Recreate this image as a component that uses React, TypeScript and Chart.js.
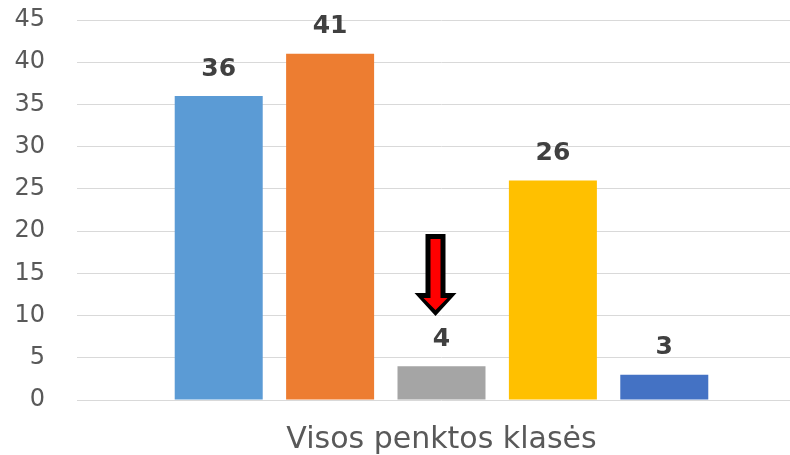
import React, { useEffect, useRef } from "react";
import { Chart, registerables } from "chart.js";

Chart.register(...registerables);

const categories = ["Visos penktos klasės"];
const seriesNames = ["A", "B", "C", "D", "E"];
const seriesValues = [36, 41, 4, 26, 3];
const seriesColors = ["#5B9BD5", "#ED7D31", "#A5A5A5", "#FFC000", "#4472C4"];
const yTicks = [0, 5, 10, 15, 20, 25, 30, 35, 40, 45];
// arrow annotation over the third series (in data units)
const arrowSeries = 2;
const arrowTopValue = 19.66;
const arrowHeadValue = 12.67;
const arrowTipValue = 9.95;

const FONT = "'DejaVu Sans'";

function arrowPath(ctx: any, cx: number, top: number, head: number, tip: number, sw: number, hw: number) {
  ctx.beginPath();
  ctx.moveTo(cx - sw, top);
  ctx.lineTo(cx + sw, top);
  ctx.lineTo(cx + sw, head);
  ctx.lineTo(cx + hw, head);
  ctx.lineTo(cx, tip);
  ctx.lineTo(cx - hw, head);
  ctx.lineTo(cx - sw, head);
  ctx.closePath();
}

const labelPlugin = {
  id: "barLabels",
  afterDatasetsDraw(chart: any) {
    const ctx = chart.ctx;
    ctx.save();
    ctx.font = `bold 25px ${FONT}`;
    ctx.fillStyle = "#404040";
    ctx.textAlign = "center";
    ctx.textBaseline = "middle";
    chart.data.datasets.forEach((ds: any, i: number) => {
      const meta = chart.getDatasetMeta(i);
      meta.data.forEach((bar: any, j: number) => {
        ctx.fillText(String(ds.data[j]), bar.x, bar.y - 27);
      });
    });
    // arrow
    const y = chart.scales.y;
    const bar = chart.getDatasetMeta(arrowSeries).data[0];
    const cx = bar.x - 6;
    const top = y.getPixelForValue(arrowTopValue);
    const head = y.getPixelForValue(arrowHeadValue);
    const tip = y.getPixelForValue(arrowTipValue);
    arrowPath(ctx, cx, top, head, tip, 10, 21);
    ctx.fillStyle = "#000000";
    ctx.fill();
    arrowPath(ctx, cx, top + 5, head + 5, tip - 6, 5, 12);
    ctx.fillStyle = "#FF0000";
    ctx.fill();
    ctx.restore();
  },
};

export default function App() {
  const ref = useRef<HTMLCanvasElement>(null);
  useEffect(() => {
    if (!ref.current) return;
    const chart = new Chart(ref.current, {
      type: "bar",
      data: {
        labels: categories,
        datasets: seriesValues.map((v, i) => ({
          label: seriesNames[i],
          data: [v],
          backgroundColor: seriesColors[i],
          categoryPercentage: 0.764,
          barPercentage: 0.79,
        })),
      },
      options: {
        responsive: false,
        animation: false,
        layout: { padding: { top: 20, right: 0, left: 0, bottom: 0 } },
        plugins: { legend: { display: false }, tooltip: { enabled: false } },
        scales: {
          x: {
            afterFit: (s: any) => {
              s.height = 55;
              s.paddingLeft = 0;
              s.paddingRight = 0;
            },
            grid: { display: false, drawTicks: false },
            border: { display: false },
            ticks: {
              color: "#595959",
              font: { family: FONT, size: 30 },
              padding: 22,
            },
          },
          y: {
            min: 0,
            max: 45,
            afterFit: (s: any) => {
              s.width = 77;
              s.paddingTop = 0;
              s.paddingBottom = 0;
            },
            afterBuildTicks: (s: any) => {
              s.ticks = yTicks.map((v) => ({ value: v }));
            },
            grid: { color: "#D9D9D9", lineWidth: 1, drawTicks: false },
            border: { display: false },
            ticks: {
              color: "#595959",
              font: { family: FONT, size: 24 },
              padding: 32,
            },
          },
        },
      },
      plugins: [labelPlugin],
    });
    return () => chart.destroy();
  }, []);
  return (
    <div
      style={{
        position: "fixed",
        left: 0,
        top: 0,
        width: 790,
        height: 455,
        overflow: "hidden",
        background: "#fff",
      }}
    >
      <canvas ref={ref} width={806} height={455} style={{ display: "block" }} />
    </div>
  );
}
